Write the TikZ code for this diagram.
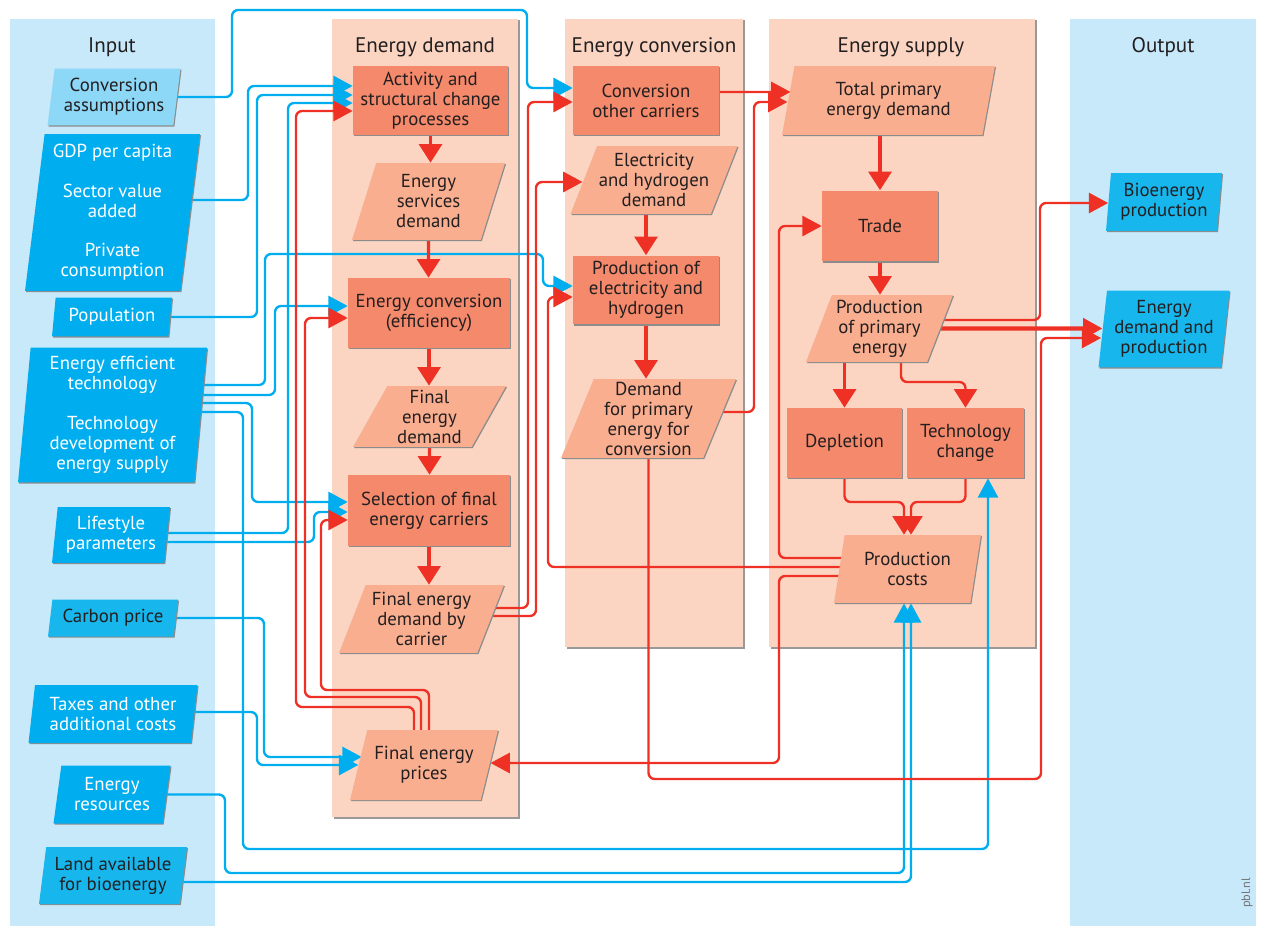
\documentclass[tikz,border=0pt]{standalone}
\usepackage{fontspec}
\setmainfont{PT Sans}
\usetikzlibrary{shapes.geometric, arrows.meta, calc, shadows}

\definecolor{ink}{HTML}{231F20}
\definecolor{fred}{HTML}{EE3124}
\definecolor{fblue}{HTML}{00AEEF}
\definecolor{icyan}{HTML}{17B6EC}
\definecolor{ilight}{HTML}{8DD7F7}
\definecolor{ipanel}{HTML}{C7E9FA}
\definecolor{opanel}{HTML}{FBD5C2}
\definecolor{orect}{HTML}{F4896B}
\definecolor{opara}{HTML}{F9AE90}

\pgfdeclarelayer{back}
\pgfsetlayers{back,main}

\tikzstyle{box} = [text=ink, align=center, inner sep=1pt, font=\fontsize{10.7}{11.4}\selectfont, drop shadow={shadow xshift=0.6pt, shadow yshift=-0.6pt, fill=black!45, opacity=1}]
\tikzstyle{rblock} = [box, rectangle, fill=orect]
\tikzstyle{pblock} = [box, trapezium, trapezium stretches body, fill=opara]
\tikzstyle{iblock} = [box, trapezium, trapezium stretches body, fill=fblue, text=white]
\tikzset{tilt/.style={trapezium left angle=#1, trapezium right angle=\the\numexpr180-#1\relax}}
\tikzstyle{title} = [text=ink, font=\fontsize{12}{13}\selectfont]
\tikzstyle{rline} = [draw=fred, line width=1.35pt, rounded corners=3.5pt, -{Triangle[length=11pt,width=11.5pt]}]
\tikzstyle{bline} = [draw=fblue, line width=1.35pt, rounded corners=3.5pt, -{Triangle[length=11pt,width=11.5pt]}]
\tikzstyle{fline} = [draw=fred, line width=1.8pt, -{Triangle[length=10.5pt,width=13pt]}]

\begin{document}
\begin{tikzpicture}[x=0.02cm, y=-0.02cm]
    \useasboundingbox (0,0) rectangle (1261,926);

    % column titles
    \node (hin)  [title] at (112,47)  {Input};
    \node (hdem) [title] at (425,47)  {Energy demand};
    \node (hcon) [title] at (654,47)  {Energy conversion};
    \node (hsup) [title] at (901,47)  {Energy supply};
    \node (hout) [title] at (1163,47) {Output};
    \node (pbl) [rotate=90, text=black!55, font=\fontsize{7}{8}\selectfont] at (1247,893) {pbl.nl};

    % inputs
    \node (in1) [iblock, fill=ilight, text=ink, tilt=80, minimum width=2.66cm, minimum height=1.14cm] at (114,97) {Conversion\\assumptions};
    \node (in2) [iblock, tilt=82, minimum width=3.5cm, minimum height=3.14cm] at (112.5,212.5) {GDP per capita\\[11pt]Sector value\\added\\[11pt]Private\\consumption};
    \node (in3) [iblock, tilt=80, minimum width=2.4cm, minimum height=0.78cm] at (112,317) {Population};
    \node (in4) [iblock, tilt=84, minimum width=3.78cm, minimum height=2.7cm] at (112.5,415) {Energy efficient\\technology\\[11pt]Technology\\development of\\energy supply};
    \node (in5) [iblock, tilt=82, minimum width=2.36cm, minimum height=1.12cm] at (111,535) {Lifestyle\\parameters};
    \node (in6) [iblock, fill=icyan, text=ink, tilt=78, minimum width=2.6cm, minimum height=0.74cm] at (113,618) {Carbon price};
    \node (in7) [iblock, tilt=80, minimum width=3.38cm, minimum height=1.16cm] at (113,714) {Taxes and other\\additional costs};
    \node (in8) [iblock, tilt=78, minimum width=2.34cm, minimum height=1.16cm] at (112,794.5) {Energy\\resources};
    \node (in9) [iblock, fill=icyan, text=ink, tilt=80, minimum width=2.96cm, minimum height=1.14cm] at (113,875.5) {Land available\\for bioenergy};

    % energy demand
    \node (dem1) [rblock, minimum width=3.1cm, minimum height=1.38cm] at (430.5,100.5) {Activity and\\structural change\\processes};
    \node (dem2) [pblock, tilt=67, minimum width=3.06cm, minimum height=1.54cm] at (428.5,201.5) {Energy\\services\\demand};
    \node (dem3) [rblock, minimum width=3.24cm, minimum height=1.4cm] at (429,313) {Energy conversion\\(efficiency)};
    \node (dem4) [pblock, tilt=59, minimum width=3.06cm, minimum height=1.22cm] at (429.5,416.5) {Final\\energy\\demand};
    \node (dem5) [rblock, minimum width=3.24cm, minimum height=1.42cm] at (429,510.5) {Selection of final\\energy carriers};
    \node (dem6) [pblock, tilt=65, minimum width=3.3cm, minimum height=1.36cm] at (421.5,619) {Final energy\\demand by\\carrier};
    \node (dem7) [pblock, tilt=67, minimum width=2.96cm, minimum height=1.4cm] at (424,765) {Final energy\\prices};

    % energy conversion
    \node (con1) [rblock, minimum width=2.92cm, minimum height=1.38cm] at (646,100.5) {Conversion\\other carriers};
    \node (con2) [pblock, tilt=65, minimum width=3.28cm, minimum height=1.36cm] at (654,180) {Electricity\\and hydrogen\\demand};
    \node (con3) [rblock, minimum width=2.92cm, minimum height=1.38cm] at (646,290) {Production of\\electricity and\\hydrogen};
    \node (con4) [pblock, tilt=67, minimum width=3.5cm, minimum height=1.58cm] at (648.5,418.5) {Demand\\for primary\\energy for\\conversion};

    % energy supply
    \node (sup1) [pblock, tilt=73, minimum width=4.26cm, minimum height=1.38cm] at (888.5,100.5) {Total primary\\energy demand};
    \node (sup2) [rblock, minimum width=2.32cm, minimum height=1.42cm] at (880,226) {Trade};
    \node (sup3) [pblock, tilt=67, minimum width=2.94cm, minimum height=1.34cm] at (879.5,328.5) {Production\\of primary\\energy};
    \node (sup4) [rblock, minimum width=2.3cm, minimum height=1.4cm] at (844.5,443) {Depletion};
    \node (sup5) [rblock, minimum width=2.34cm, minimum height=1.4cm] at (965.5,443) {Technology\\change};
    \node (sup6) [pblock, tilt=74, minimum width=2.94cm, minimum height=1.36cm] at (907.5,569) {Production\\costs};

    % outputs
    \node (out1) [iblock, fill=icyan, text=ink, tilt=83, minimum width=2.32cm, minimum height=1.16cm] at (1164,202) {Bioenergy\\production};
    \node (out2) [iblock, fill=icyan, text=ink, tilt=82, minimum width=2.62cm, minimum height=1.54cm] at (1164,329) {Energy\\demand and\\production};

    \begin{pgfonlayer}{back}
    % panels
    \fill [ipanel] (10,19) rectangle (215,926);
    \fill [ipanel] (1070,19) rectangle (1256,926);
    \fill [black!40] (333.5,20.5) rectangle (519.5,818.5);
    \fill [opanel] (332,19) rectangle (518,817);
    \fill [black!40] (566.5,20.5) rectangle (744.5,648.5);
    \fill [opanel] (565,19) rectangle (743,647);
    \fill [black!40] (770.5,20.5) rectangle (1036.5,648.5);
    \fill [opanel] (769,19) rectangle (1035,647);

    % blue input links
    \draw [bline] (in1) -- (232,97) -- (232,10) -- (527,10) -- (527,88) -- ($(con1.west)+(0,-12.5)$);
    \draw [bline] ($(in2)+(0,-12.5)$) -- (248,200) -- (248,86) -- ($(dem1.west)+(0,-14.5)$);
    \draw [bline] (in3) -- (257,317) -- (257,95) -- ($(dem1.west)+(0,-5.5)$);
    \draw [bline] ($(in5)+(0,-2)$) -- (288,533) -- (288,103) -- ($(dem1.west)+(0,2.5)$);
    \draw [bline] ($(in4)+(0,-30)$) -- (265,385) -- (265,254) -- (543,254) -- (543,286) -- ($(con3.west)+(0,-4)$);
    \draw [bline] ($(in4)+(0,-20)$) -- (275,395) -- (275,306) -- ($(dem3.west)+(0,-7)$);
    \draw [bline] ($(in4)+(0,-12)$) -- (252,403) -- (252,502) -- ($(dem5.west)+(0,-8.5)$);
    \draw [bline] ($(in4)+(0,-3)$) -- (243,412) -- (243,849) -- (988,849) -- ($(sup5.south)+(22.5,0)$);
    \draw [bline] ($(in5)+(0,7)$) -- (314,542) -- (314,512) -- ($(dem5.west)+(0,1.5)$);
    \draw [bline] (in6) -- (264,618) -- (264,757) -- ($(dem7.west)+(3.4,-8)$);
    \draw [bline] ($(in7)+(0,-2)$) -- (257,712) -- (257,765) -- (dem7.west);
    \draw [bline] (in8) -- (225,794.5) -- (225,873) -- (904,873) -- ($(sup6.south)+(-3.5,0)$);
    \draw [bline] ($(in9)+(0,6.5)$) -- (911,882) -- ($(sup6.south)+(3.5,0)$);

    % red feedback links
    \draw [rline] ($(dem7.north)+(-10,2)$) -- (414,707) -- (296,707) -- (296,111) -- ($(dem1.west)+(0,10.5)$);
    \draw [rline] ($(dem7.north)+(-3,2)$) -- (421,697) -- (305,697) -- (305,318) -- ($(dem3.west)+(0,5)$);
    \draw [rline] ($(dem7.north)+(5,2)$) -- (429,690) -- (321,690) -- (321,520) -- ($(dem5.west)+(0,9.5)$);
    \draw [rline] ($(dem6)+(0,-11)$) -- (528,608) -- (528,102) -- ($(con1.west)+(0,1.5)$);
    \draw [rline] ($(dem6)+(0,-3)$) -- (536,616) -- (536,182) -- ($(con2.west)+(-0.9,2)$);
    \draw [rline] ($(sup6)+(0,-2)$) -- (548,567) -- (548,297) -- ($(con3.west)+(0,7)$);
    \draw [rline] ($(con1)+(0,-8.5)$) -- ($(sup1.west)+(2.6,-8.5)$);
    \draw [rline] ($(con4)+(0,-6.5)$) -- (754,412) -- (754,102) -- ($(sup1.west)+(-0.5,1.5)$);
    \draw [rline] ($(sup6)+(0,-11)$) -- (779,558) -- (779,226) -- (sup2.west);
    \draw [rline] ($(sup6)+(0,7)$) -- (779,576) -- (779,763) -- ($(dem7.east)+(0.8,-2)$);
    \draw [rline] (con4.south) -- (648.5,779) -- (1041,779) -- (1041,338) -- ($(out2.west)+(-1.3,9)$);
    \draw [rline] ($(sup3)+(0,-8.5)$) -- (1040,320) -- (1040,203) -- ($(out1.west)+(0,1)$);
    \draw [rline, line width=2.3pt] (sup3) -- ($(out2.west)+(0,-0.5)$);

    % main flow
    \draw [fline] (dem1) -- (dem1 |- dem2.north);
    \draw [fline] (dem2) -- (dem2 |- dem3.north);
    \draw [fline] (dem3) -- (dem3 |- dem4.north);
    \draw [fline] (dem4) -- (dem4 |- dem5.north);
    \draw [fline] (dem5) -- (dem5 |- dem6.north);
    \draw [fline] (con3 |- con2.south) -- (con3);
    \draw [fline] (con3) -- (con3 |- con4.north);
    \draw [fline] (sup2 |- sup1.south) -- (sup2);
    \draw [fline] (sup2) -- (sup2 |- sup3.north);
    \draw [fline] (sup4 |- sup3.south) -- (sup4);
    \draw [fline, line width=1.35pt, rounded corners=3.5pt] ($(sup3.south)+(21.5,0)$) -- (901,382) -- (965.5,382) -- (sup5.north);
    \draw [fline, line width=1.35pt, rounded corners=3.5pt] (sup4.south) -- (844.5,502) -- (904,502) -- ($(sup6.north)+(-3.5,0)$);
    \draw [fline, line width=1.35pt, rounded corners=3.5pt] (sup5.south) -- (965.5,502) -- (911,502) -- ($(sup6.north)+(3.5,0)$);
    \end{pgfonlayer}
\end{tikzpicture}
\end{document}
